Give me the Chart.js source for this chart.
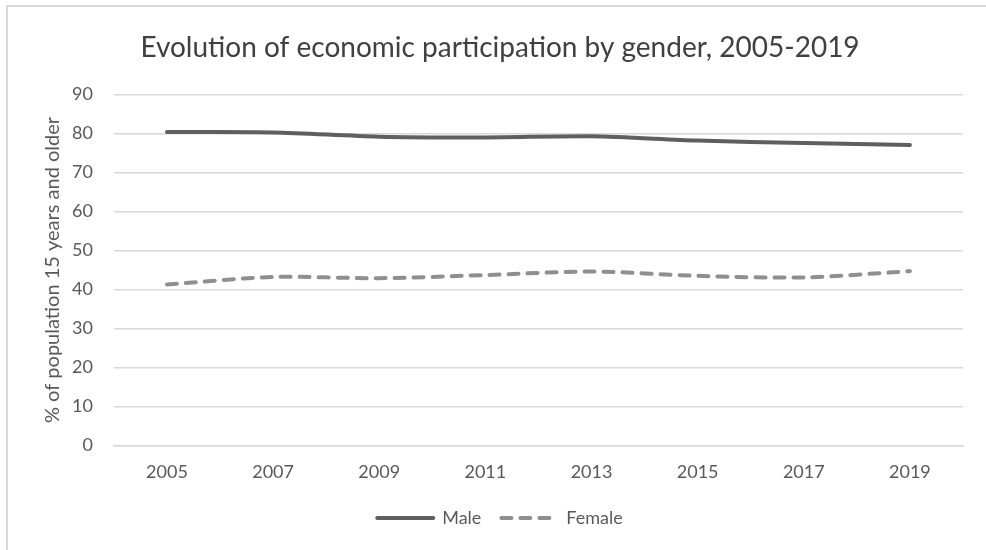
<!DOCTYPE html>
<html>
<head>
<meta charset="utf-8">
<script src="https://cdn.jsdelivr.net/npm/chart.js@4.4.1/dist/chart.umd.min.js"></script>
<style>
  html, body { margin: 0; padding: 0; background: #fff; }
  #wrap { position: relative; width: 986px; height: 550px; }
  /* frame: only top and left edges are visible in the picture */
  #frame { position: absolute; left: 6px; top: 5px; right: -4px; bottom: -4px;
           border-top: 2px solid #d9d9d9; border-left: 2px solid #d9d9d9; pointer-events: none; }
  canvas { position: absolute; left: 0; top: 0; }
</style>
</head>
<body>
<div id="wrap">
  <canvas id="chart" width="986" height="550"></canvas>
  <div id="frame"></div>
</div>
<script>
// Dados (% da população com 15 anos ou mais)
const years = ['2005', '2007', '2009', '2011', '2013', '2015', '2017', '2019'];
const male = [80.4, 80.3, 79.2, 79.0, 79.3, 78.2, 77.6, 77.1];
const female = [41.3, 43.2, 42.9, 43.7, 44.6, 43.5, 43.1, 44.7];
const yTicks = [0, 10, 20, 30, 40, 50, 60, 70, 80, 90];

const FONT = 'Lato, "Open Sans", sans-serif';
const TEXT = '#595959';
const GRID = '#d9d9d9';

// legenda em forma de linha, com o tracejado da série (o Chart.js perde-o com usePointStyle)
function legendLabels(chart) {
  return chart.data.datasets.map((ds, i) => ({
    text: ds.label,
    datasetIndex: i,
    fillStyle: ds.borderColor,
    strokeStyle: ds.borderColor,
    fontColor: TEXT,
    lineWidth: 4,
    lineDash: ds.borderDash || [],
    lineCap: 'round',
    pointStyle: 'line',
    hidden: false
  }));
}

function buildChart() {
  const ctx = document.getElementById('chart').getContext('2d');

  return new Chart(ctx, {
    type: 'line',
    data: {
      labels: years,
      datasets: [
        {
          label: 'Male',
          data: male,
          borderColor: '#5f5f5f',
          backgroundColor: '#5f5f5f',
          borderWidth: 4,
          borderCapStyle: 'round',
          tension: 0.3,
          pointRadius: 0,
          fill: false
        },
        {
          label: 'Female',
          data: female,
          borderColor: '#8f8f8f',
          backgroundColor: '#8f8f8f',
          borderWidth: 4,
          borderDash: [10, 9],
          borderCapStyle: 'round',
          tension: 0.3,
          pointRadius: 0,
          fill: false
        }
      ]
    },
    options: {
      responsive: false,
      animation: false,
      layout: { padding: { left: 37, right: 23, top: 0, bottom: 13 } },
      plugins: {
        title: {
          display: true,
          text: 'Evolution of economic participation by gender, 2005-2019',
          color: '#404040',
          font: { family: FONT, size: 28, weight: 'normal' },
          padding: { top: 31, bottom: 30 }
        },
        legend: {
          position: 'bottom',
          labels: {
            usePointStyle: true,
            pointStyle: 'line',
            pointStyleWidth: 56,
            color: TEXT,
            font: { family: FONT, size: 18 },
            padding: 20,
            generateLabels: legendLabels
          }
        },
        tooltip: { enabled: false }
      },
      scales: {
        x: {
          offset: true,
          grid: { display: false, drawTicks: false },
          border: { display: true, color: GRID, width: 1.5 },
          ticks: { color: TEXT, font: { family: FONT, size: 18 }, padding: 16 },
          afterFit: scale => { scale.height -= 10; }
        },
        y: {
          min: yTicks[0],
          max: yTicks[yTicks.length - 1],
          afterBuildTicks: scale => { scale.ticks = yTicks.map(v => ({ value: v })); },
          afterFit: scale => { scale.width -= 14; },
          grid: { color: GRID, lineWidth: 1.5, drawTicks: false },
          border: { display: false },
          ticks: { color: TEXT, font: { family: FONT, size: 18 }, padding: 21 },
          title: {
            display: true,
            text: '% of population 15 years and older',
            color: TEXT,
            font: { family: FONT, size: 20 },
            padding: { top: 4, bottom: 0 }
          }
        }
      }
    }
  });
}

document.addEventListener('DOMContentLoaded', buildChart);
</script>
</body>
</html>
